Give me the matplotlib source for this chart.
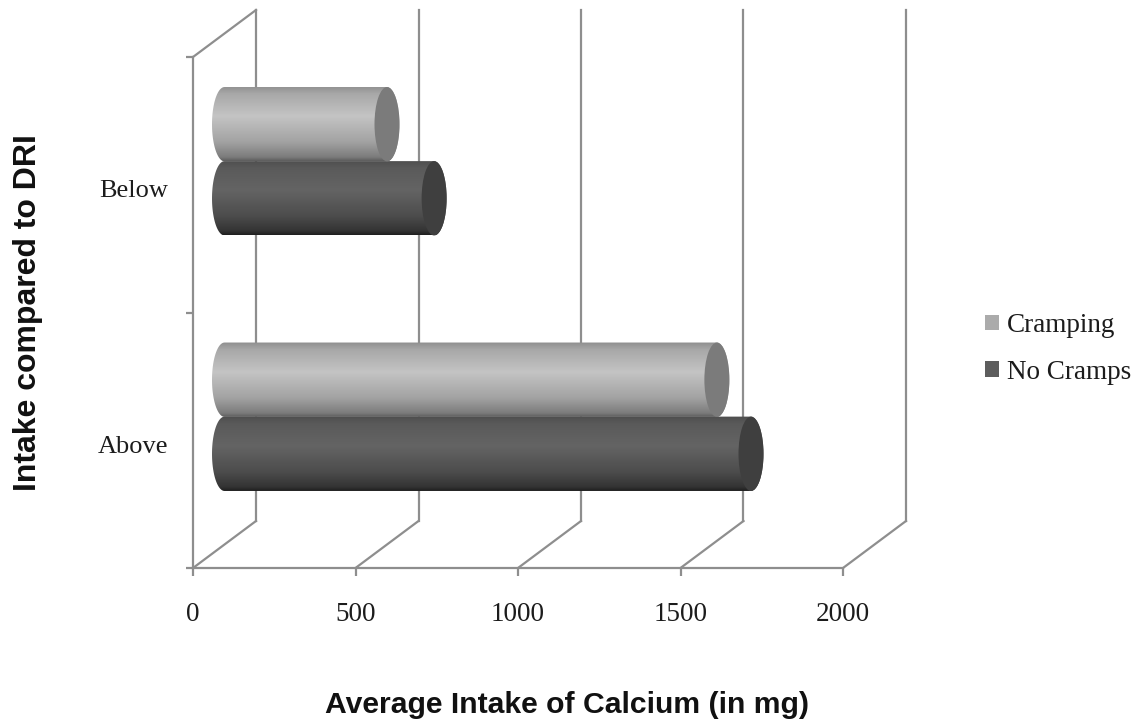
import matplotlib
matplotlib.use("Agg")
import matplotlib.pyplot as plt
import numpy as np
from matplotlib.colors import LinearSegmentedColormap
from matplotlib.patches import Ellipse, Patch, PathPatch
from matplotlib.path import Path
from matplotlib.transforms import ScaledTranslation

categories = ["Above", "Below"]
cramping = [1515, 500]
no_cramps = [1620, 645]
x_ticks = [0, 500, 1000, 1500, 2000]
series_names = ["Cramping", "No Cramps"]
x_title = "Average Intake of Calcium (in mg)"
y_title = "Intake compared to DRI"

W, H = 1137, 728
GRID = "#8e8e8e"
TEXT = "#1c1c1c"
SERIF = "Liberation Serif"

fig = plt.figure(figsize=(W / 100, H / 100), dpi=100)
ax = fig.add_axes([193 / W, 1 - 568 / H, 650 / W, 511 / H])
ax.set_xlim(0, 2000)
ax.set_ylim(0, 2)

# depth of the fake 3d box, in data units
depth_x = 63 / 650 * 2000
depth_y = 47 / 511 * 2


light_cmap = LinearSegmentedColormap.from_list(
    "light", [(0, "#8f8f8f"), (0.1, "#a8a8a8"), (0.4, "#c4c4c4"), (0.75, "#a2a2a2"), (0.95, "#7c7c7c"), (1, "#5e5e5e")])
dark_cmap = LinearSegmentedColormap.from_list(
    "dark", [(0, "#4e4e4e"), (0.1, "#5a5a5a"), (0.4, "#646464"), (0.75, "#4c4c4c"), (0.95, "#333333"), (1, "#1f1f1f")])


def cylinder(y_center, value, cmap, cap_color, z):
    half = 0.1455
    rx = 12.5 / 650 * 2000
    x0 = depth_x / 2
    x1 = x0 + value
    yc = y_center + depth_y / 2
    t = np.linspace(np.pi / 2, 3 * np.pi / 2, 40)
    left = np.column_stack([x0 + rx * np.cos(t), yc + half * np.sin(t)])
    right = np.column_stack([x1 - rx * np.cos(t), yc - half * np.sin(t)])
    pts = np.vstack([left, right, left[:1]])
    body = PathPatch(Path(pts), facecolor="none", edgecolor="none", transform=ax.transData)
    ax.add_patch(body)
    grad = np.linspace(0, 1, 200).reshape(-1, 1)
    im = ax.imshow(grad, cmap=cmap, aspect="auto", origin="upper", vmin=0, vmax=1,
                   extent=[x0 - rx, x1 + rx, yc - half, yc + half], zorder=z)
    im.set_clip_path(body)
    ax.add_patch(Ellipse((x1, yc), 2 * rx, 2 * half, facecolor=cap_color, edgecolor="none", zorder=z + 0.1))


# box walls and grid lines
for x in x_ticks:
    ax.plot([x, x + depth_x], [0, depth_y], color=GRID, lw=1.6, clip_on=False, zorder=1)
    ax.plot([x + depth_x, x + depth_x], [depth_y, 2 + depth_y], color=GRID, lw=1.6, clip_on=False, zorder=1)
ax.plot([0, depth_x], [2, 2 + depth_y], color=GRID, lw=1.6, clip_on=False, zorder=1)

# dark bars first, the light ones lie on top of them
for i, cat in enumerate(categories):
    cylinder(i + 0.5 - 0.145, no_cramps[i], dark_cmap, "#3f3f3f", 3)
    cylinder(i + 0.5 + 0.145, cramping[i], light_cmap, "#7b7b7b", 4)
ax.set_xlim(0, 2000)
ax.set_ylim(0, 2)

for s in ["top", "right"]:
    ax.spines[s].set_visible(False)
for s in ["left", "bottom"]:
    ax.spines[s].set_color(GRID)
    ax.spines[s].set_linewidth(1.6)

ax.set_xticks(x_ticks)
ax.set_xticklabels([str(v) for v in x_ticks], family=SERIF, fontsize=19.5, color=TEXT)
ax.tick_params(axis="x", length=5.5, width=1.6, color=GRID, pad=19)
ax.set_yticks([0, 1, 2])
ax.set_yticklabels([])
ax.tick_params(axis="y", length=5, width=1.6, color=GRID)
ax.set_yticks([0.5, 1.5], minor=True)
ax.set_yticklabels(categories, minor=True, family=SERIF, fontsize=19, color=TEXT)
ax.tick_params(axis="y", which="minor", length=0, pad=18)
for lab in ax.get_yticklabels(minor=True):
    lab.set_transform(lab.get_transform() + ScaledTranslation(0, -3 / 72, fig.dpi_scale_trans))
ax.patch.set_alpha(0)

fig.text(567 / W, 1 - 705 / H, x_title, ha="center", va="center", family="Liberation Sans",
         weight="bold", fontsize=21.7, color="#111111")
fig.text(28 / W, 1 - 313 / H, y_title, ha="center", va="center", rotation=90, family="Liberation Sans",
         weight="bold", fontsize=23, color="#111111")

handles = [Patch(facecolor="#ababab", edgecolor="none"), Patch(facecolor="#5d5d5d", edgecolor="none")]
fig.legend(handles, series_names, loc="center left", bbox_to_anchor=(985 / W, 1 - 349 / H), frameon=False,
           prop={"family": SERIF, "size": 19.5}, labelcolor=TEXT, handlelength=0.52, handleheight=0.52,
           handletextpad=0.3, labelspacing=0.8, borderpad=0, borderaxespad=0)

fig.savefig("out.png", dpi=100)
